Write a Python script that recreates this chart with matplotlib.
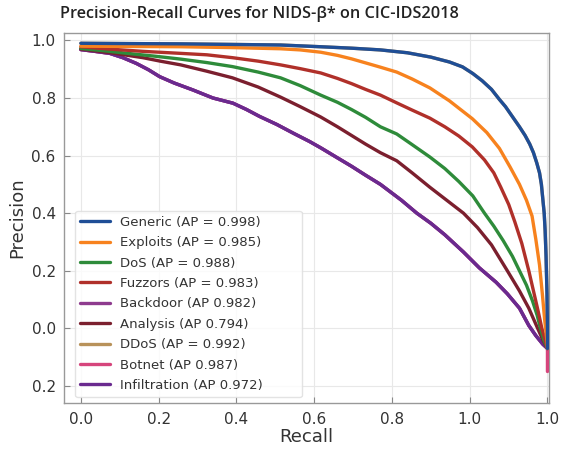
import numpy as np
import matplotlib
matplotlib.use('Agg')
import matplotlib.pyplot as plt

# values (recall, precision)
generic_r = [0, 0.1, 0.214, 0.325, 0.428, 0.514, 0.58, 0.642, 0.7, 0.75, 0.79, 0.818, 0.84, 0.86, 0.88, 0.897,
             0.91, 0.925, 0.94, 0.952, 0.962, 0.97, 0.977, 0.983, 0.987, 0.99, 0.993, 0.995, 0.997, 0.999, 1.0, 1.0]
generic_p = [0.99, 0.989, 0.988, 0.986, 0.984, 0.978, 0.973, 0.967, 0.957, 0.942, 0.925, 0.908, 0.885, 0.86,
             0.83, 0.795, 0.77, 0.735, 0.70, 0.67, 0.64, 0.61, 0.575, 0.54, 0.50, 0.45, 0.40, 0.34, 0.25, 0.12,
             0.0, -0.07]

exploits_r = [0, 0.1, 0.214, 0.325, 0.428, 0.47, 0.514, 0.55, 0.58, 0.61, 0.642, 0.677, 0.71, 0.748, 0.79, 0.839,
              0.87, 0.897, 0.92, 0.94, 0.955, 0.967, 0.975, 0.983, 0.989, 0.994, 0.998, 1.0]
exploits_p = [0.98, 0.979, 0.978, 0.975, 0.971, 0.967, 0.959, 0.948, 0.936, 0.922, 0.907, 0.89, 0.866, 0.835,
              0.79, 0.728, 0.68, 0.625, 0.56, 0.50, 0.445, 0.39, 0.31, 0.22, 0.12, 0.03, -0.03, -0.07]

dos_r = [0, 0.05, 0.1, 0.16, 0.214, 0.27, 0.325, 0.38, 0.428, 0.47, 0.514, 0.55, 0.58, 0.61, 0.642, 0.677, 0.71,
         0.748, 0.78, 0.81, 0.84, 0.865, 0.885, 0.905, 0.925, 0.94, 0.955, 0.968, 0.978, 0.985, 0.992, 1.0]
dos_p = [0.972, 0.964, 0.955, 0.945, 0.935, 0.923, 0.909, 0.89, 0.87, 0.843, 0.81, 0.785, 0.76, 0.733, 0.70,
         0.675, 0.638, 0.595, 0.555, 0.51, 0.46, 0.40, 0.355, 0.305, 0.25, 0.2, 0.15, 0.095, 0.045, 0.0,
         -0.04, -0.07]

fuzzors_r = [0, 0.06, 0.133, 0.214, 0.27, 0.325, 0.38, 0.428, 0.47, 0.514, 0.55, 0.58, 0.61, 0.642, 0.677, 0.71,
             0.748, 0.78, 0.81, 0.839, 0.865, 0.885, 0.9, 0.917, 0.93, 0.945, 0.96, 0.97, 0.98, 0.988, 0.995, 1.0]
fuzzors_p = [0.978, 0.97, 0.962, 0.955, 0.95, 0.94, 0.928, 0.915, 0.902, 0.887, 0.868, 0.85, 0.83, 0.81, 0.783,
             0.758, 0.73, 0.70, 0.668, 0.63, 0.585, 0.54, 0.49, 0.43, 0.37, 0.295, 0.2, 0.13, 0.06, 0.0,
             -0.04, -0.07]

analysis_r = [0, 0.06, 0.133, 0.17, 0.214, 0.27, 0.325, 0.38, 0.428, 0.47, 0.514, 0.55, 0.58, 0.61, 0.642, 0.677,
              0.71, 0.748, 0.78, 0.82, 0.85, 0.88, 0.914, 0.94, 0.96, 0.979, 0.99, 1.0]
analysis_p = [0.97, 0.958, 0.94, 0.928, 0.915, 0.893, 0.87, 0.838, 0.803, 0.77, 0.734, 0.70, 0.67, 0.64, 0.61,
              0.582, 0.54, 0.49, 0.45, 0.40, 0.35, 0.29, 0.2, 0.13, 0.07, 0.0, -0.04, -0.07]

infil_r = [0, 0.03, 0.062, 0.09, 0.119, 0.145, 0.169, 0.2, 0.24, 0.283, 0.326, 0.355, 0.383, 0.42, 0.455, 0.49,
           0.514, 0.55, 0.58, 0.61, 0.642, 0.687, 0.72, 0.75, 0.78, 0.82, 0.854, 0.89, 0.914, 0.94, 0.96, 0.975,
           0.99, 1.0]
infil_p = [0.968, 0.962, 0.955, 0.94, 0.92, 0.898, 0.874, 0.852, 0.828, 0.80, 0.782, 0.76, 0.736, 0.708, 0.678,
           0.649, 0.627, 0.592, 0.563, 0.532, 0.50, 0.445, 0.40, 0.365, 0.325, 0.265, 0.21, 0.16, 0.12, 0.07,
           0.01, -0.025, -0.055, -0.07]

# these three are hidden under the others in the reference
backdoor_r = infil_r
backdoor_p = infil_p
ddos_r = generic_r
ddos_p = generic_p
botnet_r = infil_r + [1.0]
botnet_p = infil_p + [-0.15]

labels = ['Generic (AP = 0.998)', 'Exploits (AP = 0.985)', 'DoS (AP = 0.988)', 'Fuzzors (AP = 0.983)',
          'Backdoor (AP 0.982)', 'Analysis (AP 0.794)', 'DDoS (AP = 0.992)', 'Botnet (AP 0.987)',
          'Infiltration (AP 0.972)']
colors = ['#1f4e96', '#f7821e', '#2e8b3a', '#b0302a', '#8e3b8e', '#7b1f2e', '#b8925a', '#d6457c', '#6a2a8f']

xticks = np.linspace(0, 1, 7)
xlabels = ['0.0', '0.2', '0.4', '0.6', '0.8', '1.0', '1.0']
yticks = [1.0, 0.8, 0.6, 0.4, 0.2, 0.0, -0.2]
ylabels = ['1.0', '0.8', '0.6', '0.4', '0.2', '0.0', '0.2']

fig = plt.figure(figsize=(5.67, 4.51), dpi=100)
ax = fig.add_axes([0.113, 0.106, 0.855, 0.821])

series = [(generic_r, generic_p), (exploits_r, exploits_p), (dos_r, dos_p), (fuzzors_r, fuzzors_p),
          (backdoor_r, backdoor_p), (analysis_r, analysis_p), (ddos_r, ddos_p), (botnet_r, botnet_p),
          (infil_r, infil_p)]
# hidden ones drawn first
order = [7, 6, 4, 8, 5, 2, 3, 1, 0]
handles = [None] * 9
for i in order:
    r, p = series[i]
    ln, = ax.plot(r, p, color=colors[i], lw=2.4, label=labels[i], solid_capstyle='round',
                  solid_joinstyle='round', zorder=3)
    handles[i] = ln

ax.set_xlim(-0.036, 1.003)
ax.set_ylim(-0.26, 1.026)
ax.set_xticks(xticks)
ax.set_xticklabels(xlabels)
ax.set_yticks(yticks)
ax.set_yticklabels(ylabels)
ax.tick_params(direction='in', length=4, color='#888888', labelsize=11, labelcolor='#333333', pad=6)
ax.grid(True, color='#e8e8e8', lw=0.8, zorder=0)
for s in ax.spines.values():
    s.set_color('#999999')
    s.set_linewidth(1.0)

ax.set_xlabel('Recall', fontsize=13, color='#333333', labelpad=1)
ax.set_ylabel('Precision', fontsize=13, color='#333333', labelpad=4)
fig.text(0.457, 0.968, 'Precision-Recall Curves for NIDS-β* on CIC-IDS2018', fontsize=11.7,
         family=['Open Sans', 'DejaVu Sans'], fontweight='semibold', color='#222222', ha='center', va='center')

leg = ax.legend(handles=handles, loc='lower left', fontsize=9.5, frameon=True, labelspacing=0.56,
                handlelength=2.2, handletextpad=0.8, borderpad=0.4, borderaxespad=0, mode='expand',
                bbox_to_anchor=(0.023, 0.016, 0.468, 0.01))
leg.get_frame().set_edgecolor('#dddddd')
for t in leg.get_texts():
    t.set_color('#333333')

fig.savefig('out.png', dpi=100)
